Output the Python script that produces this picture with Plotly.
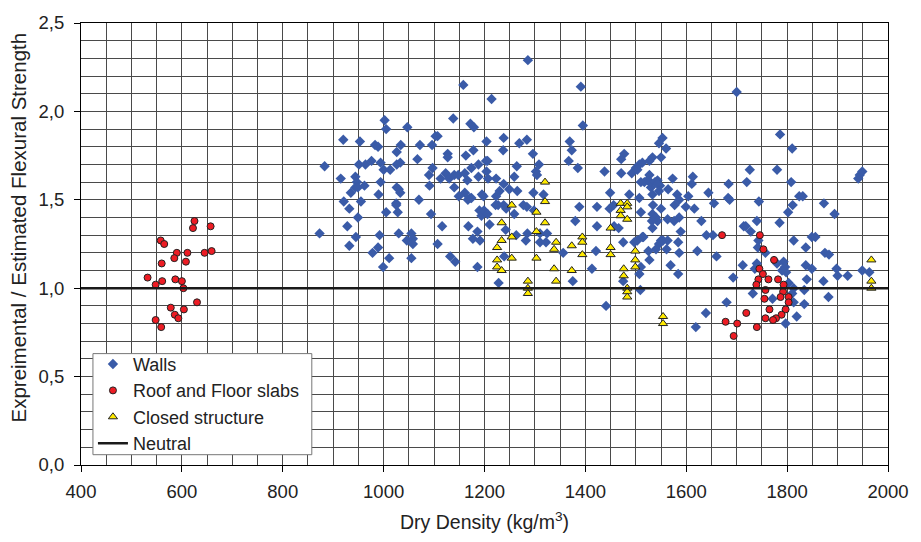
import plotly.graph_objects as go

# Walls (blue diamonds)
walls_x = [1286,1158,1391,1214,1138,1002,1005,1047,1172,1179,1395,920,953,983,989,1034,1026,1072,1096,1103,1107,1204,1238,1237,1269,1284,1296,1308,1369,1373,1367,1385,1438,1449,883,951,964,976,994,1000,1013,1026,1033,1067,1097,1127,1127,1163,1178,1174,1188,1203,1206,1204,1264,1302,1304,915,944,947,944,949,962,935,994,990,1026,1030,1033,1090,1113,1123,1130,1140,1148,1161,1166,1140,1091,1188,1207,1223,1238,1259,1249,1265,1230,1223,1161,1149,1195,1198,1171,1070,1297,1317,921,955,1025,
           932,949,928,945,932,873,1005,1028,1025,992,989,978,1011,999,1030,1055,1046,1058,1058,1055,1094,1116,1107,1132,1142,1168,1167,1174,1186,1177,1191,1186,1190,1194,1199,1206,1210,1222,1227,1238,1243,1242,1259,1263,1239,1228,1277,1284,1285,1282,1298,1310,1324,1310,1322,1356,1388,1380,1423,1423,1421,1413,1375,1448,1456,1441,
           1700,1786,1810,1553,1546,1560,1477,1471,1533,1550,1471,1492,1500,1507,1513,1527,1503,1573,1613,1611,1726,1780,1720,1808,1684,1944,1949,1941,1507,1527,1523,1517,1530,1533,1543,1548,1564,1582,1604,1644,1683,1824,1831,1487,1510,1529,1538,1543,1546,1686,1655,1744,1811,1802,1873,1894,1510,1534,1550,1577,1586,1599,1616,1533,1540,1543,1630,1740,1785,1563,1576,1714,1718,1728,1743,1742,1757,1793,1796,1798,1803,1813,1810,1813,1819,1797,1771,1834,1834,1813,1837,1849,1856,1875,1883,1837,1849,1839,1872,1898,1900,1920,1949,1963,1882,1532,1533,1586,1589,1640,1653,1660,1622,1584,1586,1561,1569,1584,1550,1546,1540,1527,1510,1507,1509,1497,1475,1475,1457,1513,1525,1693,1680,1639,1619,1712,1736,1740,1780,1790,1732,1466,1503,1515,1554,1563]
walls_y = [2.29,2.15,2.14,2.07,1.96,1.95,1.90,1.91,1.93,1.91,1.92,1.84,1.83,1.81,1.80,1.81,1.77,1.81,1.81,1.86,1.86,1.83,1.85,1.78,1.82,1.84,1.76,1.70,1.83,1.78,1.72,1.68,1.66,1.54,1.69,1.70,1.70,1.72,1.71,1.67,1.67,1.70,1.71,1.73,1.68,1.76,1.74,1.75,1.78,1.68,1.70,1.72,1.72,1.66,1.69,1.66,1.64,1.62,1.63,1.60,1.57,1.57,1.58,1.54,1.60,1.53,1.57,1.56,1.54,1.64,1.62,1.65,1.62,1.64,1.64,1.65,1.61,1.57,1.58,1.63,1.62,1.62,1.59,1.63,1.56,1.55,1.55,1.52,1.54,1.52,1.53,1.52,1.51,1.50,1.54,1.53,1.49,1.49,1.48,
           1.45,1.40,1.35,1.29,1.24,1.31,1.43,1.43,1.47,1.30,1.23,1.20,1.17,1.12,1.31,1.31,1.27,1.28,1.25,1.17,1.42,1.35,1.25,1.18,1.15,1.35,1.50,1.51,1.32,1.28,1.27,1.12,1.44,1.41,1.44,1.42,1.36,1.47,1.47,1.47,1.45,1.33,1.42,1.30,1.18,1.03,1.47,1.46,1.31,1.27,1.44,1.31,1.31,1.26,1.26,1.20,1.46,1.38,1.46,1.35,1.21,1.11,1.04,1.45,1.47,0.90,
           2.11,1.87,1.79,1.85,1.82,1.79,1.76,1.73,1.74,1.74,1.65,1.65,1.68,1.70,1.71,1.72,1.67,1.62,1.63,1.59,1.67,1.67,1.60,1.60,1.59,1.64,1.66,1.62,1.51,1.64,1.61,1.60,1.57,1.53,1.61,1.58,1.56,1.53,1.52,1.54,1.51,1.52,1.52,1.53,1.60,1.60,1.60,1.59,1.55,1.50,1.48,1.49,1.47,1.43,1.48,1.42,1.43,1.47,1.45,1.47,1.50,1.46,1.45,1.42,1.40,1.38,1.38,1.38,1.37,1.39,1.38,1.35,1.35,1.32,1.27,1.23,1.20,1.15,1.12,1.09,1.03,1.00,0.97,0.92,0.84,0.80,0.94,0.99,0.91,1.27,1.23,1.29,1.29,1.20,1.19,1.13,1.11,1.05,1.04,1.11,1.07,1.07,1.10,1.09,0.95,1.38,1.34,1.40,1.32,1.30,1.30,1.18,1.21,1.26,1.20,1.22,1.13,1.08,1.27,1.25,1.22,1.16,1.12,1.08,0.99,1.26,1.26,1.04,1.35,1.29,1.21,1.06,0.92,0.86,0.78,1.13,1.11,1.14,1.14,1.10,0.97,1.34,1.27,1.29,1.27,1.27]

# Roof and Floor slabs (red circles)
slabs_x = [625,622,657,558,565,590,611,645,659,585,608,560,532,561,587,600,548,603,630,578,604,586,593,548,559,
           1671,1746,1753,1774,1745,1752,1743,1739,1763,1782,1793,1757,1792,1787,1803,1755,1803,1765,1797,1719,1789,1757,1778,1772,1678,1701,1740,1694]
slabs_y = [1.38,1.34,1.35,1.27,1.25,1.20,1.20,1.20,1.21,1.17,1.15,1.14,1.06,1.04,1.05,1.04,1.02,1.00,0.92,0.89,0.88,0.85,0.83,0.82,0.78,
           1.30,1.30,1.22,1.16,1.11,1.08,1.05,1.02,1.05,1.05,1.02,0.99,0.98,0.95,0.95,0.94,0.92,0.88,0.88,0.86,0.85,0.83,0.83,0.82,0.81,0.80,0.78,0.73]

# Closed structure (yellow triangles)
closed_x = [1320,1320,1254,1303,1234,1320,1303,1394,1254,1234,1342,1394,1225,1338,1373,1450,1450,1394,1450,1254,1303,1225,1225,1234,1338,1373,1342,1286,1286,1286,
            1470,1483,1483,1470,1470,1483,1499,1499,1499,1476,1476,1483,1483,1483,1554,1554,1967,1967,1967]
closed_y = [1.60,1.49,1.47,1.43,1.37,1.37,1.32,1.29,1.29,1.27,1.26,1.26,1.23,1.22,1.24,1.34,1.23,1.19,1.19,1.17,1.17,1.16,1.12,1.10,1.11,1.10,1.04,1.04,1.00,0.97,
            1.48,1.48,1.46,1.44,1.41,1.39,1.21,1.16,1.12,1.11,1.07,1.00,0.98,0.95,0.84,0.80,1.16,1.04,1.00]

neutral_x = [400, 2000]
neutral_y = [1.0, 1.0]

FONT = "Liberation Sans, Arial, sans-serif"

fig = go.Figure()
fig.add_trace(go.Scatter(x=walls_x, y=walls_y, mode="markers", name="Walls",
                         marker=dict(symbol="diamond", size=8, color="#3A5BA8", line=dict(width=0))))
fig.add_trace(go.Scatter(x=slabs_x, y=slabs_y, mode="markers", name="Roof and Floor slabs",
                         marker=dict(symbol="circle", size=7, color="#ED1C24", line=dict(width=1, color="#222"))))
fig.add_trace(go.Scatter(x=closed_x, y=closed_y, mode="markers", name="Closed structure",
                         marker=dict(symbol="triangle-up", size=8, color="#FFEA00", line=dict(width=1, color="#222"))))
fig.add_trace(go.Scatter(x=neutral_x, y=neutral_y, mode="lines", name="Neutral",
                         line=dict(color="#1a1a1a", width=2.5)))

# legend frame drawn as a shape (paper coords) behind the transparent legend
fig.add_shape(type="rect", xref="paper", yref="paper",
              x0=0.0148, x1=0.286, y0=0.0233, y1=0.252,
              fillcolor="white", line=dict(color="#777", width=1), layer="above")

# y-axis title (placed like the reference, slightly above the plot centre)
fig.add_annotation(text="Expreimental / Estimated Flexural Strength", xref="paper", yref="paper",
                   x=-0.0777, y=0.538, xanchor="center", yanchor="middle", textangle=-90,
                   showarrow=False, font=dict(size=20.5, family=FONT, color="#222"))

fig.update_layout(
    width=921, height=542,
    margin=dict(l=81, r=29, t=15, b=77),
    paper_bgcolor="white", plot_bgcolor="white",
    separators=",.",
    font=dict(family=FONT, size=18, color="#222"),
    showlegend=True,
    legend=dict(x=0.0148, y=0.2697, xanchor="left", yanchor="top",
                bgcolor="rgba(0,0,0,0)", borderwidth=0,
                font=dict(size=18, family=FONT, color="#222"),
                tracegroupgap=0, itemwidth=30),
    xaxis=dict(range=[400, 2000], dtick=200, tick0=400, showline=True, mirror=True,
               linecolor="black", linewidth=1, ticks="outside", ticklen=6, tickcolor="black",
               showgrid=True, gridcolor="#4a4a4a", gridwidth=1, zeroline=False,
               separatethousands=False, ticklabelstandoff=4,
               minor=dict(dtick=50, showgrid=True, gridcolor="#4a4a4a", gridwidth=1, ticks=""),
               title=dict(text="Dry Density (kg/m<sup>3</sup>)", font=dict(size=19.5), standoff=14),
               tickfont=dict(size=18.5)),
    yaxis=dict(range=[0, 2.5], dtick=0.5, tick0=0, tickformat=".1f", showline=True, mirror=True,
               linecolor="black", linewidth=1, ticks="outside", ticklen=6, tickcolor="black",
               showgrid=True, gridcolor="#4a4a4a", gridwidth=1, zeroline=False,
               ticklabelstandoff=6,
               minor=dict(dtick=0.1, showgrid=True, gridcolor="#4a4a4a", gridwidth=1, ticks=""),
               tickfont=dict(size=18.5)),
)

fig.write_html("out.html")
